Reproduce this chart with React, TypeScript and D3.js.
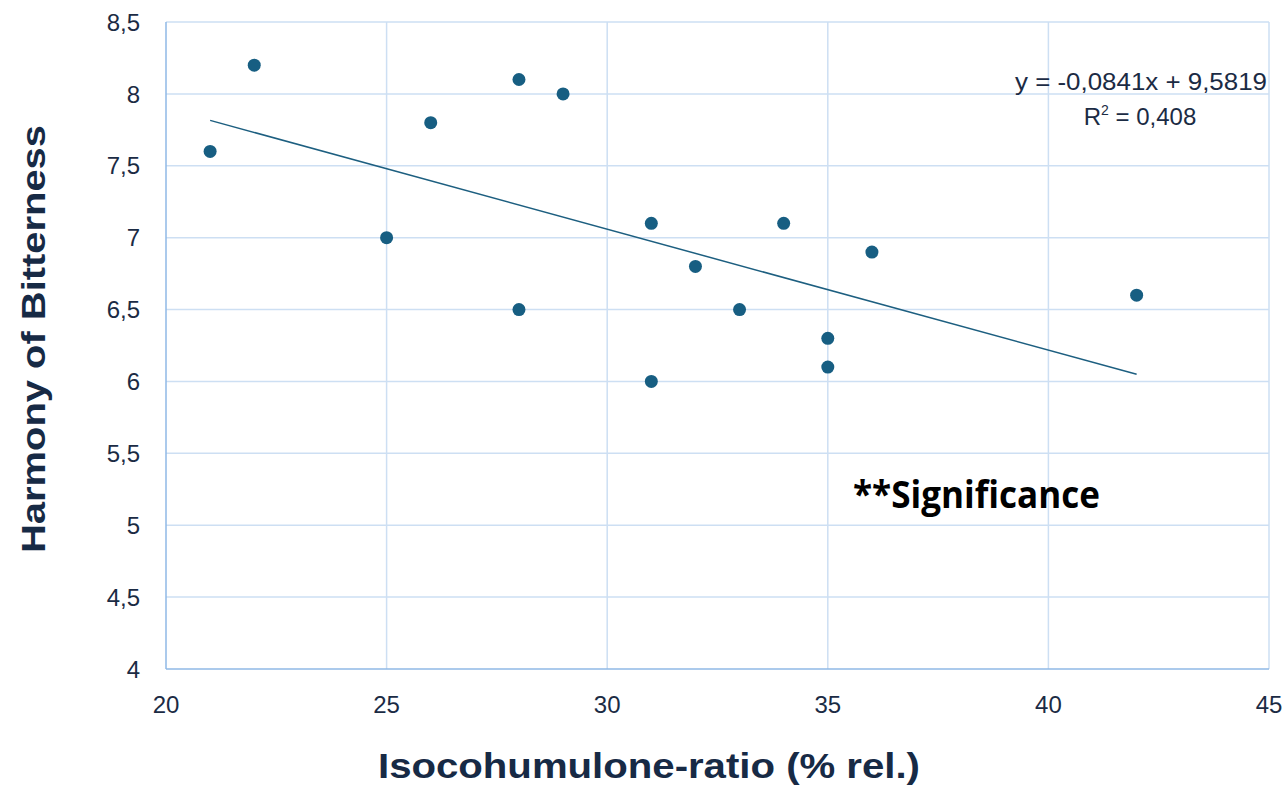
import React, { useEffect, useRef } from 'react';
import * as d3 from 'd3';

// measured values
const isoRatio = [21, 22, 25, 26, 28, 28, 29, 31, 31, 32, 33, 34, 35, 35, 36, 42];
const harmony = [7.6, 8.2, 7.0, 7.8, 8.1, 6.5, 8.0, 7.1, 6.0, 6.8, 6.5, 7.1, 6.3, 6.1, 6.9, 6.6];

const xTicks = [20, 25, 30, 35, 40, 45];
const yTicks = [4, 4.5, 5, 5.5, 6, 6.5, 7, 7.5, 8, 8.5];

// trendline as reported on the chart
const slope = -0.0841;
const intercept = 9.5819;
const eqLabel = 'y = -0,0841x + 9,5819';
const r2Value = '0,408';

const App = () => {
  const ref = useRef<SVGSVGElement>(null);

  useEffect(() => {
    const W = 1288, H = 786;
    const m = { left: 166, right: 19, top: 22, bottom: 117 };
    const fmt = (v: number) => String(v).replace('.', ',');

    const svg = d3.select(ref.current);
    svg.selectAll('*').remove();

    const x = d3.scaleLinear().domain([20, 45]).range([m.left, W - m.right]);
    const y = d3.scaleLinear().domain([4, 8.5]).range([H - m.bottom, m.top]);

    // Grid
    const grid = svg.append('g');
    grid.selectAll('.gx')
      .data(xTicks.slice(1))
      .enter().append('line')
      .attr('x1', d => x(d)).attr('x2', d => x(d))
      .attr('y1', y(4)).attr('y2', y(8.5))
      .style('stroke', '#cddff3').style('stroke-width', 1.5);
    grid.selectAll('.gy')
      .data(yTicks.slice(1))
      .enter().append('line')
      .attr('x1', x(20)).attr('x2', x(45))
      .attr('y1', d => y(d)).attr('y2', d => y(d))
      .style('stroke', '#cddff3').style('stroke-width', 1.5);

    // Axis lines
    svg.append('line')
      .attr('x1', x(20)).attr('x2', x(20)).attr('y1', y(4)).attr('y2', y(8.5))
      .style('stroke', '#8fb8e6').style('stroke-width', 1.5);
    svg.append('line')
      .attr('x1', x(20)).attr('x2', x(45)).attr('y1', y(4)).attr('y2', y(4))
      .style('stroke', '#8fb8e6').style('stroke-width', 1.5);

    // Tick labels
    const tickFont = '"Liberation Sans", Arial, sans-serif';
    svg.selectAll('.xl')
      .data(xTicks)
      .enter().append('text')
      .attr('x', d => x(d)).attr('y', 713)
      .attr('text-anchor', 'middle')
      .style('font-family', tickFont).style('font-size', '24px')
      .attr('fill', '#1b2b44')
      .text(d => fmt(d));
    svg.selectAll('.yl')
      .data(yTicks)
      .enter().append('text')
      .attr('x', x(20) - 26).attr('y', d => y(d))
      .attr('dy', '0.36em')
      .attr('text-anchor', 'end')
      .style('font-family', tickFont).style('font-size', '24px')
      .attr('fill', '#1b2b44')
      .text(d => fmt(d));

    // Axis titles
    svg.append('text')
      .attr('x', 649).attr('y', 778)
      .attr('text-anchor', 'middle')
      .attr('textLength', 542).attr('lengthAdjust', 'spacingAndGlyphs')
      .style('font-family', tickFont).style('font-size', '35px').style('font-weight', 'bold')
      .attr('fill', '#172a45')
      .text('Isocohumulone-ratio (% rel.)');
    svg.append('text')
      .attr('transform', `translate(45,${339}) rotate(-90)`)
      .attr('text-anchor', 'middle')
      .attr('textLength', 428).attr('lengthAdjust', 'spacingAndGlyphs')
      .style('font-family', tickFont).style('font-size', '34px').style('font-weight', 'bold')
      .attr('fill', '#172a45')
      .text('Harmony of Bitterness');

    // Trendline
    const [x0, x1] = d3.extent(isoRatio) as [number, number];
    svg.append('line')
      .attr('x1', x(x0)).attr('y1', y(slope * x0 + intercept))
      .attr('x2', x(x1)).attr('y2', y(slope * x1 + intercept))
      .style('stroke', '#1d5f80').style('stroke-width', 1.5);

    // Points
    svg.selectAll('.pt')
      .data(isoRatio)
      .enter().append('circle')
      .attr('cx', d => x(d))
      .attr('cy', (d, i) => y(harmony[i]))
      .attr('r', 6.5)
      .style('fill', '#175e82');

    // Equation
    svg.append('text')
      .attr('x', 1267).attr('y', 90)
      .attr('text-anchor', 'end')
      .attr('textLength', 252).attr('lengthAdjust', 'spacingAndGlyphs')
      .style('font-family', tickFont).style('font-size', '24px')
      .attr('fill', '#1b2b44')
      .text(eqLabel);
    const r2 = svg.append('text')
      .attr('x', 1140).attr('y', 125)
      .attr('text-anchor', 'middle')
      .style('font-family', tickFont).style('font-size', '24px')
      .attr('fill', '#1b2b44');
    r2.append('tspan').text('R');
    r2.append('tspan').attr('dy', -10).style('font-size', '14px').text('2');
    r2.append('tspan').attr('dy', 10).text(' = ' + r2Value);

    // Annotation
    svg.append('text')
      .attr('x', 853).attr('y', 508)
      .attr('textLength', 247).attr('lengthAdjust', 'spacingAndGlyphs')
      .style('font-family', '"Open Sans", sans-serif').style('font-size', '37px').style('font-weight', 'bold')
      .attr('fill', '#000')
      .text('**Significance');
  }, []);

  return (
    <svg ref={ref} width={1288} height={786}
      style={{ position: 'absolute', left: 0, top: 0, background: '#fff' }} />
  );
};

export default App;
